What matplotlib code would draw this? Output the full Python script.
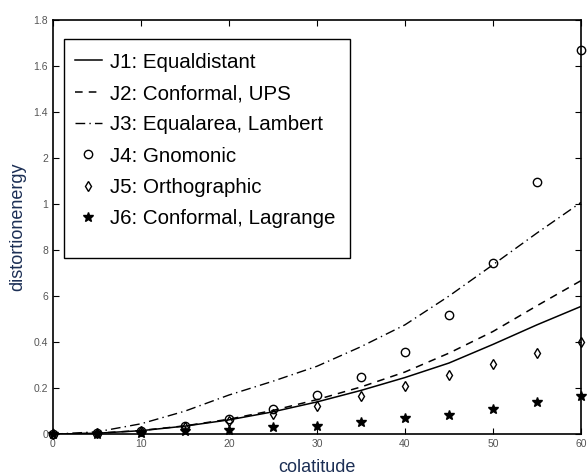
import matplotlib.pyplot as plt
from matplotlib.patches import Rectangle

plt.rcParams['font.family'] = ['Liberation Sans', 'DejaVu Sans']

# colatitude in degrees
colat = [0, 5, 10, 15, 20, 25, 30, 35, 40, 45, 50, 55, 60]

# distortion energy for the six map projections
j1_equidistant = [0, 0.004, 0.015, 0.035, 0.062, 0.097, 0.14, 0.19, 0.246, 0.309, 0.39, 0.475, 0.555]
j2_ups = [0, 0.004, 0.016, 0.036, 0.065, 0.103, 0.15, 0.205, 0.27, 0.352, 0.446, 0.558, 0.667]
j3_lambert = [0, 0.010, 0.045, 0.10, 0.17, 0.23, 0.295, 0.38, 0.475, 0.6, 0.736, 0.874, 1.007]
j4_gnomonic = [0, 0.004, 0.015, 0.037, 0.068, 0.11, 0.168, 0.25, 0.359, 0.519, 0.743, 1.094, 1.67]
j5_ortho = [0, 0.004, 0.013, 0.03, 0.055, 0.087, 0.123, 0.164, 0.21, 0.255, 0.304, 0.352, 0.40]
j6_lagrange = [0, 0.002, 0.006, 0.012, 0.019, 0.029, 0.036, 0.051, 0.071, 0.084, 0.109, 0.138, 0.164]

yticks = [0, 0.2, 0.4, 0.6, 0.8, 1.0, 1.2, 1.4, 1.6, 1.8]
ytick_labels = ['0', '0.2', '0.4', '6', '8', '1', '2', '1.4', '1.6', '1.8']
xticks = [0, 10, 20, 30, 40, 50, 60]

fig = plt.figure(figsize=(5.88, 4.75), dpi=100)
ax = fig.add_axes([0.090, 0.086, 0.898, 0.872])

ax.plot(colat, j1_equidistant, 'k-', lw=1.1, label='J1: Equaldistant')
ax.plot(colat, j2_ups, 'k--', lw=1.1, dashes=(5, 4), label='J2: Conformal, UPS')
ax.plot(colat, j3_lambert, 'k-.', lw=1.0, dashes=(7, 3, 1, 3), label='J3: Equalarea, Lambert')
ax.plot(colat, j4_gnomonic, 'ko', mfc='none', ms=6, mew=1.0, ls='none',
        clip_on=False, label='J4: Gnomonic')
ax.plot(colat, j5_ortho, 'kd', mfc='none', ms=5.5, mew=1.0, ls='none',
        clip_on=False, label='J5: Orthographic')
ax.plot(colat, j6_lagrange, 'k*', ms=7, ls='none', clip_on=False,
        label='J6: Conformal, Lagrange')

ax.set_xlim(0, 60)
ax.set_ylim(0, 1.8)
ax.set_xticks(xticks)
ax.set_yticks(yticks)
ax.set_yticklabels(ytick_labels)
ax.tick_params(direction='in', top=True, right=True, labelsize=7.5,
               labelcolor='#555555', length=4)
for s in ax.spines.values():
    s.set_linewidth(1.2)

ax.set_xlabel('colatitude', fontsize=13, color='#1c2f55', labelpad=7)
ax.set_ylabel('distortionenergy', fontsize=13, color='#1c2f55', labelpad=5)

# legend without its own frame; the box is drawn separately with extra room below
leg = ax.legend(loc='upper left', bbox_to_anchor=(0.042, 0.921), borderaxespad=0,
                fontsize=14.8, labelspacing=0.6, handlelength=1.3,
                handletextpad=0.42, frameon=False, borderpad=0)
ax.add_patch(Rectangle((0.0208, 0.425), 0.5417, 0.529, transform=ax.transAxes,
                       fill=False, edgecolor='black', lw=1.0, zorder=5))

fig.savefig('out.png', dpi=100)
